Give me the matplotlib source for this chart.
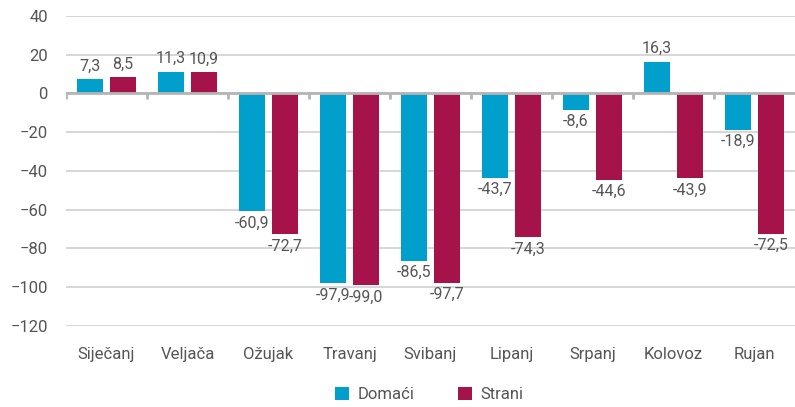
import numpy as np
import matplotlib.pyplot as plt

# podaci
mjeseci = ['Siječanj', 'Veljača', 'Ožujak', 'Travanj', 'Svibanj', 'Lipanj', 'Srpanj', 'Kolovoz', 'Rujan']
domaci = [7.3, 11.3, -60.9, -97.9, -86.5, -43.7, -8.6, 16.3, -18.9]
strani = [8.5, 10.9, -72.7, -99.0, -97.7, -74.3, -44.6, -43.9, -72.5]
y_ticks = [40, 20, 0, -20, -40, -60, -80, -100, -120]

plava = '#009fcc'
bordo = '#a5134a'
siva_txt = '#555555'

plt.rcParams['font.family'] = ['Roboto', 'DejaVu Sans']

fig = plt.figure(figsize=(7.95, 4.07), dpi=100)
ax = fig.add_axes([0.083, 0.199, 0.917, 0.762])

x = np.arange(len(mjeseci))
w = 0.33
off = 0.205

b1 = ax.bar(x - off, domaci, w, color=plava, label='Domaći', zorder=3)
b2 = ax.bar(x + off, strani, w, color=bordo, label='Strani', zorder=3)

def fmt(v):
    return f'{v:.1f}'.replace('.', ',')

for bars, vals in ((b1, domaci), (b2, strani)):
    for r, v in zip(bars, vals):
        cx = r.get_x() + r.get_width() / 2
        if v >= 0:
            ax.annotate(fmt(v), (cx, v), xytext=(0, 4), textcoords='offset points',
                        ha='center', va='bottom', fontsize=11.5, color=siva_txt)
        else:
            ax.annotate(fmt(v), (cx, v), xytext=(0, -3), textcoords='offset points',
                        ha='center', va='top', fontsize=11.5, color=siva_txt)

ax.set_ylim(-120, 40)
ax.set_xlim(-0.5, len(mjeseci) - 0.5)
ax.set_yticks(y_ticks)
ax.yaxis.grid(True, color='#d3d3d3', lw=1.3, zorder=0)
ax.axhline(0, color='#b5b5b5', lw=2, zorder=4)

# kratke crtice na nultoj liniji izmedju mjeseci
for xb in np.arange(-0.5, len(mjeseci) - 0.5, 1):
    ax.plot([xb, xb], [0, -3], color='#b5b5b5', lw=2, zorder=4, solid_capstyle='butt')

ax.set_xticks(x)
ax.set_xticklabels(mjeseci)
for s in ax.spines.values():
    s.set_visible(False)
ax.tick_params(axis='both', length=0, labelsize=12, colors=siva_txt)
ax.tick_params(axis='x', pad=15)
ax.tick_params(axis='y', pad=13)

fig.legend(handles=[b1, b2], loc='lower center', bbox_to_anchor=(0.54, -0.025), ncol=2,
           frameon=False, fontsize=12, labelcolor=siva_txt, handlelength=0.85,
           handleheight=0.85, columnspacing=2.6, handletextpad=0.5)

fig.savefig('out.png', dpi=100)
